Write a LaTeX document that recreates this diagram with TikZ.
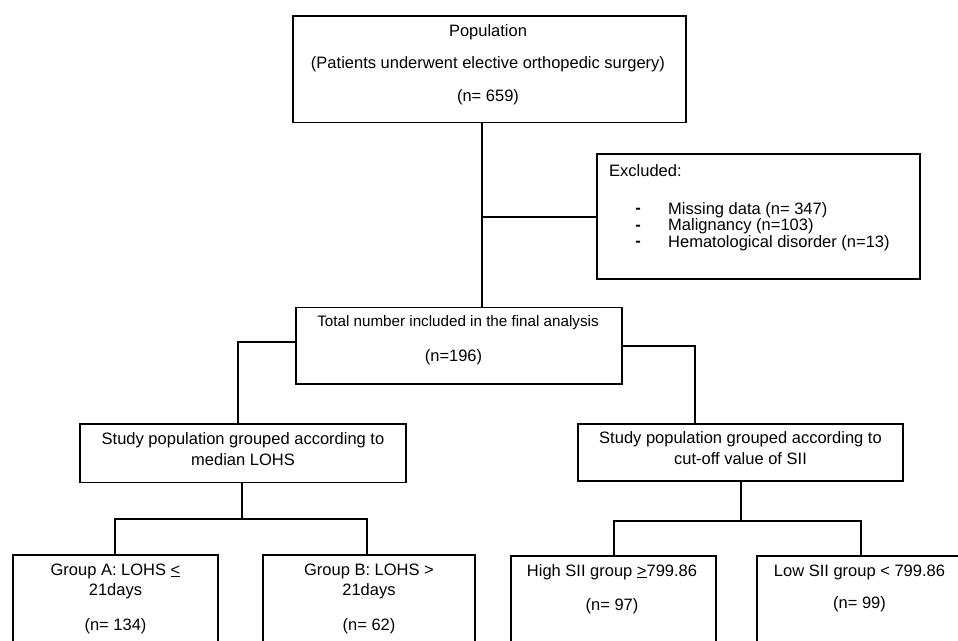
\documentclass[tikz,border=0pt]{standalone}
\usepackage{fontspec}
\setmainfont{Liberation Sans}
\begin{document}
\begin{tikzpicture}[x=1pt,y=-1pt,
  box/.style={draw,line width=1.3pt,rectangle,inner sep=0pt},
  txt/.style={font=\fontsize{16.5}{18}\selectfont,inner sep=0pt,anchor=center},
  lst/.style={font=\fontsize{16.5}{18}\selectfont,inner sep=0pt,anchor=west},
  conn/.style={draw,line width=1.8pt}]
\useasboundingbox (0,0) rectangle (958,640);
\clip (0,0) rectangle (958,640);
% boxes
\node[box,minimum width=393pt,minimum height=106.7pt] (pop) at (489.5,69.35) {};
\node[box,minimum width=323pt,minimum height=125pt] (exc) at (758.5,216.5) {};
\node[box,minimum width=326pt,minimum height=76.3pt] (tot) at (459,345.85) {};
\node[box,minimum width=326pt,minimum height=58.7pt] (lstudy) at (243,453.35) {};
\node[box,minimum width=325pt,minimum height=57pt] (rstudy) at (740.5,452.5) {};
\node[box,minimum width=205pt,minimum height=110pt] (ga) at (115.5,610) {};
\node[box,minimum width=212pt,minimum height=110pt] (gb) at (369,610) {};
\node[box,minimum width=205pt,minimum height=110pt] (hs) at (613.5,611) {};
\node[box,minimum width=210pt,minimum height=110pt] (ls) at (862,611) {};
% texts
\node[txt] (t1) at (488,32) {Population};
\node[txt] (t2) at (488,64) {(Patients underwent elective orthopedic surgery)};
\node[txt] (t3) at (488,97) {(n= 659)};
\node[lst] (e0) at (609,171) {Excluded:};
\node[lst] (e1) at (668,210) {Missing data (n= 347)};
\node[lst] (e2) at (668,226.5) {Malignancy (n=103)};
\node[lst] (e3) at (668,243) {Hematological disorder (n=13)};
\node[txt,font=\fontsize{16.5}{18}\selectfont\bfseries] (d1) at (638,211) {-};
\node[txt,font=\fontsize{16.5}{18}\selectfont\bfseries] (d2) at (638,227.5) {-};
\node[txt,font=\fontsize{16.5}{18}\selectfont\bfseries] (d3) at (638,244) {-};
\node[txt,font=\fontsize{15.2}{17}\selectfont] (m1) at (458,323) {Total number included in the final analysis};
\node[txt] (m2) at (453.5,357) {(n=196)};
\node[txt] (l1) at (243,440) {Study population grouped according to};
\node[txt] (l2) at (243,460) {median LOHS};
\node[txt] (r1) at (740.5,439) {Study population grouped according to};
\node[txt] (r2) at (740.5,459) {cut-off value of SII};
\node[txt] (a1) at (115.5,571) {Group A: LOHS \underline{<}};
\node[txt] (a2) at (115.5,591) {21days};
\node[txt] (a3) at (115.5,626) {(n= 134)};
\node[txt] (b1) at (369,571) {Group B: LOHS >};
\node[txt] (b2) at (369,591) {21days};
\node[txt] (b3) at (369,626) {(n= 62)};
\node[txt] (h1) at (612,572) {High SII group \underline{>}799.86};
\node[txt] (h2) at (612,606) {(n= 97)};
\node[txt] (w1) at (859.5,572) {Low SII group < 799.86};
\node[txt] (w2) at (859.5,604) {(n= 99)};
% connectors
\coordinate (j1) at (482,217);
\draw[conn] (482,0 |- pop.south) -- (482,0 |- tot.north);
\draw[conn] (j1) -- (exc.west |- j1);
\draw[conn] (tot.west |- 0,342) -- (238,342) -- (238,0 |- lstudy.north);
\draw[conn] (tot.east |- 0,346) -- (695,346) -- (695,0 |- rstudy.north);
\draw[conn] (242,0 |- lstudy.south) -- (242,519);
\draw[conn] (115,0 |- ga.north) -- (115,519) -- (367,519) -- (367,0 |- gb.north);
\draw[conn] (741,0 |- rstudy.south) -- (741,521);
\draw[conn] (614,0 |- hs.north) -- (614,521) -- (861,521) -- (861,0 |- ls.north);
\end{tikzpicture}
\end{document}
